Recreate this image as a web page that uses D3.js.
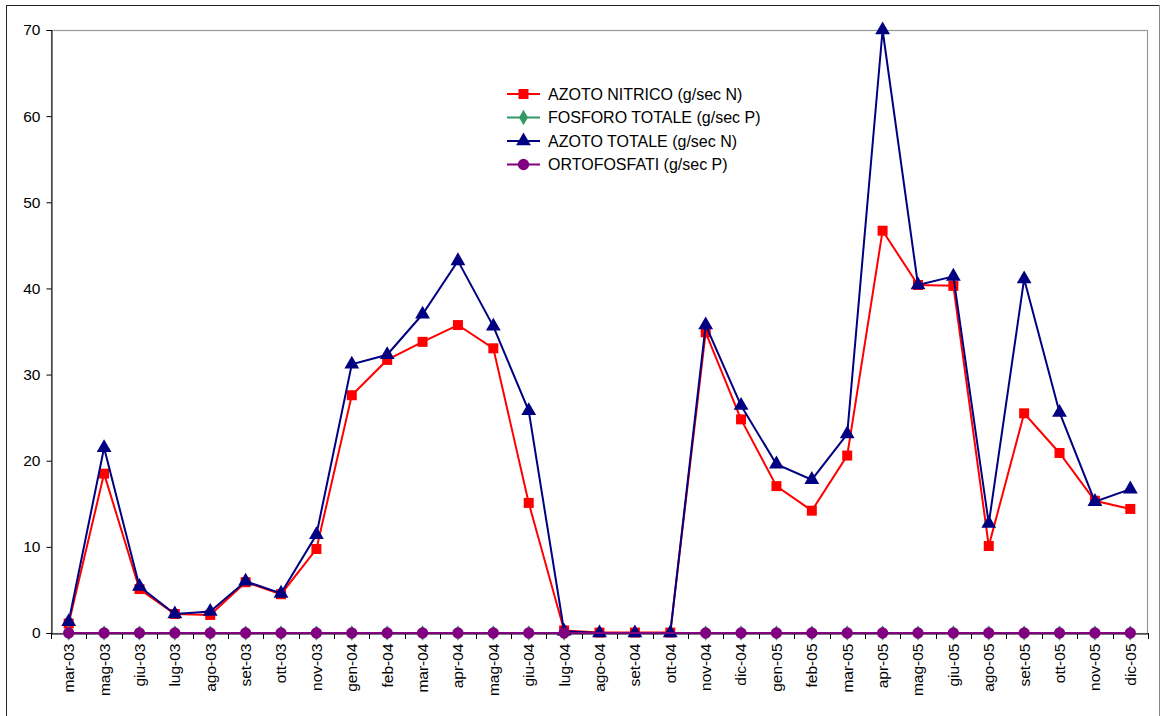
<!DOCTYPE html>
<html><head><meta charset="utf-8">
<script src="https://cdn.jsdelivr.net/npm/d3@7"></script>
<style>body{margin:0;background:#fff}svg{display:block}text{font-family:"Liberation Sans",Arial,sans-serif}</style>
</head><body><svg id="c" width="1161" height="716"></svg>
<script>
const categories = ["mar-03","mag-03","giu-03","lug-03","ago-03","set-03","ott-03","nov-03","gen-04","feb-04","mar-04","apr-04","mag-04","giu-04","lug-04","ago-04","set-04","ott-04","nov-04","dic-04","gen-05","feb-05","mar-05","apr-05","mag-05","giu-05","ago-05","set-05","ott-05","nov-05","dic-05"];
const azotoNitrico = [1.1,18.5,5.1,2.2,2.1,5.9,4.5,9.75,27.6,31.7,33.8,35.75,33.05,15.1,0.3,0.05,0.05,0.05,34.9,24.8,17.05,14.2,20.6,46.7,40.4,40.3,10.1,25.5,20.9,15.35,14.4];
const fosforoTotale = [0,0,0,0,0,0,0,0,0,0,0,0,0,0,0,null,null,null,0,0,0,0,0,0,0,0,0,0,0,0,0];
const azotoTotale = [1.3,21.5,5.4,2.2,2.5,6.0,4.6,11.4,31.2,32.3,37.0,43.2,35.6,25.8,0.2,0,0,0,35.75,26.4,19.6,17.8,23.1,70,40.4,41.4,12.7,41.1,25.6,15.25,16.7];
const ortofosfati = [0,0,0,0,0,0,0,0,0,0,0,0,0,0,0,null,null,null,0,0,0,0,0,0,0,0,0,0,0,0,0];
const yTicks = [0,10,20,30,40,50,60,70];

const series = [
  {name:"AZOTO NITRICO (g/sec N)", values:azotoNitrico, color:"#FF0000", sym:d3.symbolSquare, size:100},
  {name:"FOSFORO TOTALE (g/sec P)", values:fosforoTotale, color:"#339966", sym:d3.symbolDiamond, size:70},
  {name:"AZOTO TOTALE (g/sec N)", values:azotoTotale, color:"#000080", sym:d3.symbolTriangle, size:95},
  {name:"ORTOFOSFATI (g/sec P)", values:ortofosfati, color:"#800080", sym:d3.symbolCircle, size:100}
];

const svg = d3.select("#c");
const L=51, R=1148, T=30, B=633;
svg.append("rect").attr("x",6.5).attr("y",5.5).attr("width",1153).attr("height",720)
  .attr("fill","none").attr("stroke","#222").attr("stroke-width",1);
svg.append("line").attr("x1",1159.5).attr("x2",1159.5).attr("y1",5).attr("y2",716).attr("stroke","#888");

const x = d3.scaleBand().domain(categories).range([L,R]).padding(0);
const y = d3.scaleLinear().domain([0,70]).range([B,T]);

svg.append("rect").attr("x",L+0.5).attr("y",T+0.5).attr("width",R-L-1).attr("height",B-T)
  .attr("fill","none").attr("stroke","#999").attr("stroke-width",1.2);

const ya = svg.append("g").attr("transform",`translate(${L+0.5},0)`)
  .call(d3.axisLeft(y).tickValues(yTicks).tickSize(5).tickPadding(6).tickFormat(d3.format("d")));
ya.select(".domain").attr("stroke","#000");
ya.selectAll("text").attr("font-size",15.5).attr("fill","#000");

const xa = svg.append("g").attr("transform",`translate(0,${B+0.5})`)
  .call(d3.axisBottom(x).tickSize(0).tickPadding(0));
xa.select(".domain").attr("stroke","#000");
xa.selectAll("text").attr("font-size",15.5).attr("fill","#000")
  .attr("transform","rotate(-90)").attr("text-anchor","end").attr("dx","-10").attr("dy","0.35em").attr("y",0).attr("x",0);
const bounds = categories.map(c=>x(c)).concat([R]);
svg.append("g").selectAll("line").data(bounds).join("line")
  .attr("x1",d=>Math.round(d)+0.5).attr("x2",d=>Math.round(d)+0.5).attr("y1",B).attr("y2",B+6).attr("stroke","#000");

const cx = c => x(c)+x.bandwidth()/2;
series.forEach(s=>{
  const pts = categories.map((c,i)=>({c,v:s.values[i]})).filter(p=>p.v!==null);
  const line = d3.line().x(p=>cx(p.c)).y(p=>y(p.v));
  svg.append("path").datum(pts).attr("d",line).attr("fill","none").attr("stroke",s.color).attr("stroke-width",2);
  svg.append("g").selectAll("path").data(pts).join("path")
    .attr("transform",p=>`translate(${cx(p.c)},${y(p.v)})`)
    .attr("d",d3.symbol().type(s.sym).size(s.size)).attr("fill",s.color);
});

const lg = svg.append("g");
series.forEach((s,i)=>{
  const yy = 94 + i*23.5;
  lg.append("line").attr("x1",507).attr("x2",540).attr("y1",yy).attr("y2",yy).attr("stroke",s.color).attr("stroke-width",2);
  lg.append("path").attr("transform",`translate(523.5,${yy})`).attr("d",d3.symbol().type(s.sym).size(s.size)).attr("fill",s.color);
  lg.append("text").attr("x",548).attr("y",yy).attr("dy","0.35em").attr("font-size",16).attr("fill","#000").text(s.name);
});
</script></body></html>
